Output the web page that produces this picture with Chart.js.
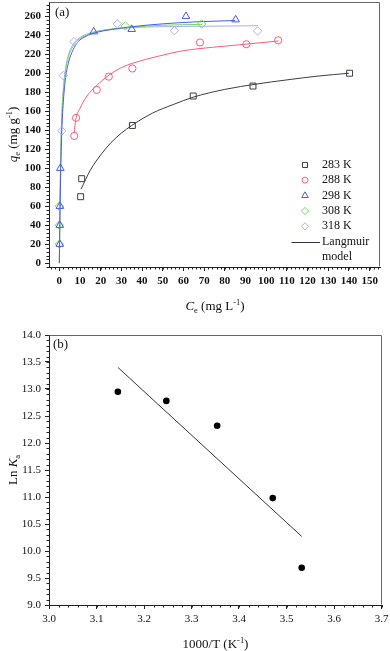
<!DOCTYPE html>
<html>
<head>
<meta charset="utf-8">
<script src="https://cdn.jsdelivr.net/npm/chart.js@4.4.1/dist/chart.umd.min.js"></script>
<style>
  html, body { margin: 0; padding: 0; background: #fff; }
  canvas { display: block; }
</style>
</head>
<body>
<canvas id="isothermChart" width="390" height="320"></canvas>
<canvas id="vantHoffChart" width="390" height="331"></canvas>
<script>
// ---- (a) adsorption isotherms: measured points ----
const seriesLabels = ['283 K', '288 K', '298 K', '308 K', '318 K'];

const ce283 = [10.3, 10.8, 35.3, 64.7, 93.6, 140.3];
const qe283 = [70, 89, 145, 176, 186.5, 200];
const ce288 = [7.2, 8.1, 18.1, 23.9, 35.3, 68, 90.4, 105.8];
const qe288 = [134, 153, 182.5, 196.4, 205, 232.4, 230.5, 234.7];
const ce298 = [0.2, 0.2, 0.3, 0.5, 16.6, 35, 61.2, 85.2];
const qe298 = [20, 40, 60, 100, 243.8, 246.3, 260, 256.4];
const ce308 = [0, 0, 0, 31.9, 68.8];
const qe308 = [20, 40, 60, 249.8, 251.9];
const ce318 = [1.2, 1.9, 7.1, 28, 55.6, 95.8];
const qe318 = [139.3, 197.5, 233.3, 252, 244.8, 244.5];

// ---- (a) Langmuir model curves ----
const fitC283 = [10.5, 15, 20, 25, 30, 35, 45, 55, 65, 80, 95, 110, 125, 140];
const fitQ283 = [78, 98, 114, 127, 137, 145, 158, 167, 175, 183, 188.5, 193, 197, 200];
const fitC288 = [7.1, 8, 10, 13, 18, 24, 30, 36, 48, 58, 68, 80, 92, 106];
const fitQ288 = [137, 152, 163, 175, 187, 198, 206, 211, 218, 223, 226, 228.5, 231, 234];
const fitC298 = [0, 0.3, 0.7, 1.2, 2, 3, 4.5, 6.5, 9, 13, 18, 25, 35, 50, 65, 85];
const fitQ298 = [0, 50, 100, 140, 172, 195, 212, 224, 233, 239, 243, 246, 249, 252, 254, 255.5];
const fitC308 = [0, 0.3, 0.7, 1.2, 2, 3, 4.5, 6.5, 9, 13, 18, 25, 35, 50, 69];
const fitQ308 = [0, 60, 115, 152, 182, 202, 218, 228, 235, 240, 244, 246.5, 248.5, 250.5, 251.5];
const fitC318 = [0, 0.3, 0.7, 1.2, 2, 3, 4.5, 6.5, 9, 13, 18, 25, 35, 50, 70, 96];
const fitQ318 = [0, 65, 120, 158, 186, 205, 220, 230, 236, 241, 244, 246, 248, 249, 249.5, 250];

const ceTicks = [0, 10, 20, 30, 40, 50, 60, 70, 80, 90, 100, 110, 120, 130, 140, 150];
const qeTicks = [0, 20, 40, 60, 80, 100, 120, 140, 160, 180, 200, 220, 240, 260];

// ---- (b) van't Hoff plot ----
const invT = [3.145, 3.247, 3.354, 3.471, 3.532];
const lnKa = [12.95, 12.78, 12.32, 10.98, 9.69];
const lineInvT = [3.145, 3.532];
const lineLnKa = [13.4, 10.27];

const invTTicks = [3.0, 3.1, 3.2, 3.3, 3.4, 3.5, 3.6, 3.7];
const lnKaTicks = [9.0, 9.5, 10.0, 10.5, 11.0, 11.5, 12.0, 12.5, 13.0, 13.5, 14.0];

const FONT = 'Liberation Serif';
const colors = ['#3c3c48', '#ff5a76', '#4c5ae6', '#6edc52', '#a9aff3'];
const styles = ['rect', 'circle', 'triangle', 'rectRot', 'rectRot'];
const radii = [4.2, 3.6, 4.4, 4.2, 4.2];

const toPoints = (xs, ys) => xs.map((x, i) => ({ x: x, y: ys[i] }));

function markerSet(i, xs, ys) {
    return {
        label: seriesLabels[i],
        data: toPoints(xs, ys),
        showLine: false,
        pointStyle: styles[i],
        pointRadius: radii[i],
        pointBorderColor: colors[i],
        pointBackgroundColor: 'rgba(0,0,0,0)',
        pointBorderWidth: 1,
    };
}

function fitSet(i, xs, ys) {
    return {
        label: seriesLabels[i] + ' fit',
        data: toPoints(xs, ys),
        showLine: true,
        pointRadius: 0,
        borderColor: colors[i],
        borderWidth: 1,
        tension: 0.4,
        cubicInterpolationMode: 'monotone',
        fill: false,
    };
}

// text with italics, subscripts and superscripts
function drawRich(ctx, parts, cx, cy, angle, size) {
    const fontFor = p => (p.italic ? 'italic ' : '') + ((p.sub || p.sup) ? size * 0.65 : size) + 'px "' + FONT + '"';
    let total = 0;
    const widths = parts.map(p => {
        ctx.font = fontFor(p);
        const w = ctx.measureText(p.t).width;
        total += w;
        return w;
    });
    ctx.save();
    ctx.translate(cx, cy);
    ctx.rotate(angle);
    ctx.fillStyle = '#111';
    ctx.textBaseline = 'alphabetic';
    ctx.textAlign = 'left';
    let x = -total / 2;
    const base = size * 0.35;
    parts.forEach((p, i) => {
        ctx.font = fontFor(p);
        const dy = p.sub ? size * 0.28 : (p.sup ? -size * 0.38 : 0);
        ctx.fillText(p.t, x, base + dy);
        x += widths[i];
    });
    ctx.restore();
}

// box frame (top + right) and minor ticks
const framePlugin = {
    id: 'frame',
    afterDraw(chart, args, opts) {
        const ctx = chart.ctx;
        const a = chart.chartArea;
        const l = Math.round(a.left) + 0.5, r = Math.round(a.right) - 0.5;
        const t = Math.round(a.top) + 0.5, b = Math.round(a.bottom) - 0.5;
        ctx.save();
        ctx.strokeStyle = '#666';
        ctx.lineWidth = 1;
        ctx.beginPath();
        ctx.moveTo(l, t);
        ctx.lineTo(r, t);
        ctx.lineTo(r, b);
        ctx.stroke();

        ctx.strokeStyle = '#222';
        ctx.beginPath();
        const xs = chart.scales.x, ys = chart.scales.y;
        for (let v = opts.xFrom; v <= xs.max + 1e-9; v += opts.xStep) {
            const px = Math.round(xs.getPixelForValue(v)) + 0.5;
            ctx.moveTo(px, a.bottom);
            ctx.lineTo(px, a.bottom + 2.5);
        }
        for (let v = opts.yFrom; v <= ys.max + 1e-9; v += opts.yStep) {
            const py = Math.round(ys.getPixelForValue(v)) + 0.5;
            ctx.moveTo(a.left, py);
            ctx.lineTo(a.left - 2.5, py);
        }
        ctx.stroke();
        ctx.restore();
    }
};

const titlesPlugin = {
    id: 'titles',
    afterDraw(chart, args, opts) {
        const ctx = chart.ctx;
        drawRich(ctx, opts.y, 12, opts.yCenter, -Math.PI / 2, 13);
        drawRich(ctx, opts.x, opts.xCenter, opts.xPos, 0, 13);
        ctx.save();
        ctx.font = '13px "' + FONT + '"';
        ctx.fillStyle = '#111';
        ctx.textBaseline = 'middle';
        ctx.textAlign = 'left';
        ctx.fillText(opts.panel, opts.panelX, opts.panelY);
        ctx.restore();
    }
};

const insideLegend = {
    id: 'insideLegend',
    afterDraw(chart) {
        const ctx = chart.ctx;
        ctx.save();
        ctx.font = '12px "' + FONT + '"';
        ctx.textBaseline = 'middle';
        ctx.textAlign = 'left';
        const rows = [165, 180.2, 195.6, 211, 226.3];
        seriesLabels.forEach((label, i) => {
            ctx.strokeStyle = colors[i];
            ctx.fillStyle = 'rgba(0,0,0,0)';
            ctx.lineWidth = 1;
            Chart.helpers.drawPoint(ctx, { pointStyle: styles[i], radius: radii[i] - 0.6, borderWidth: 1, rotation: 0 }, 305, rows[i]);
            ctx.fillStyle = '#111';
            ctx.fillText(label, 322, rows[i]);
        });
        ctx.strokeStyle = '#33334a';
        ctx.beginPath();
        ctx.moveTo(291.5, 242.5);
        ctx.lineTo(320, 242.5);
        ctx.stroke();
        ctx.fillStyle = '#111';
        ctx.fillText('Langmuir', 322, 242);
        ctx.fillText('model', 322, 257);
        ctx.restore();
    }
};

function axisOpts(min, max, tickValues, fmt, fixSize, weight) {
    return {
        type: 'linear',
        min: min,
        max: max,
        afterBuildTicks: axis => {
            axis.ticks = tickValues.map(v => ({ value: v }));
        },
        afterFit: fixSize,
        ticks: {
            autoSkip: false,
            maxRotation: 0,
            padding: 4,
            color: '#111',
            font: { family: FONT, size: 11, weight: weight },
            callback: fmt,
        },
        grid: {
            drawOnChartArea: false,
            drawTicks: true,
            tickLength: 4,
            tickColor: '#222',
        },
        border: { color: '#222', width: 1 },
    };
}

// ---- chart (a) ----
new Chart(document.getElementById('isothermChart').getContext('2d'), {
    type: 'scatter',
    data: {
        datasets: [
            markerSet(0, ce283, qe283),
            markerSet(1, ce288, qe288),
            markerSet(2, ce298, qe298),
            markerSet(3, ce308, qe308),
            markerSet(4, ce318, qe318),
            fitSet(0, fitC283, fitQ283),
            fitSet(1, fitC288, fitQ288),
            fitSet(2, fitC298, fitQ298),
            fitSet(3, fitC308, fitQ308),
            fitSet(4, fitC318, fitQ318),
        ],
    },
    options: {
        responsive: false,
        animation: false,
        layout: { autoPadding: false, padding: { left: 0, right: 10, top: 2, bottom: 0 } },
        scales: {
            x: axisOpts(-5, 155, ceTicks, v => v,
                axis => { axis.height = 53; axis.paddingLeft = 0; axis.paddingRight = 0; }, 'bold'),
            y: axisOpts(-4, 275, qeTicks, v => v,
                axis => { axis.width = 49; axis.paddingTop = 0; axis.paddingBottom = 0; }, 'bold'),
        },
        plugins: {
            legend: { display: false },
            tooltip: { enabled: false },
            frame: { xFrom: -4, xStep: 2, yFrom: -4, yStep: 4 },
            titles: {
                y: [{ t: 'q', italic: true }, { t: 'e', sub: true }, { t: ' (mg g' }, { t: '-1', sup: true }, { t: ')' }],
                x: [{ t: 'C', italic: true }, { t: 'e', sub: true }, { t: ' (mg L' }, { t: '-1', sup: true }, { t: ')' }],
                yCenter: 134.5, xCenter: 215, xPos: 305,
                panel: '(a)', panelX: 55, panelY: 13,
            },
        },
    },
    plugins: [framePlugin, titlesPlugin, insideLegend],
});

// ---- chart (b) ----
new Chart(document.getElementById('vantHoffChart').getContext('2d'), {
    type: 'scatter',
    data: {
        datasets: [
            {
                label: 'Ln Ka',
                data: toPoints(invT, lnKa),
                showLine: false,
                pointStyle: 'circle',
                pointRadius: 3.3,
                pointBackgroundColor: '#000',
                pointBorderColor: '#000',
                pointBorderWidth: 0,
            },
            {
                label: 'linear fit',
                data: toPoints(lineInvT, lineLnKa),
                showLine: true,
                pointRadius: 0,
                borderColor: '#333',
                borderWidth: 1,
                fill: false,
            },
        ],
    },
    options: {
        responsive: false,
        animation: false,
        layout: { autoPadding: false, padding: { left: 0, right: 8.5, top: 15, bottom: 0 } },
        scales: {
            x: axisOpts(3.0, 3.7, invTTicks, v => v.toFixed(1),
                axis => { axis.height = 46; axis.paddingLeft = 0; axis.paddingRight = 0; }, 'normal'),
            y: axisOpts(9.0, 14.0, lnKaTicks, v => v.toFixed(1),
                axis => { axis.width = 49; axis.paddingTop = 0; axis.paddingBottom = 0; }, 'normal'),
        },
        plugins: {
            legend: { display: false },
            tooltip: { enabled: false },
            frame: { xFrom: 3.0, xStep: 0.02, yFrom: 9.0, yStep: 0.1 },
            titles: {
                y: [{ t: 'Ln ' }, { t: 'K', italic: true }, { t: 'a', sub: true }],
                x: [{ t: '1000/T (K' }, { t: '-1', sup: true }, { t: ')' }],
                yCenter: 150, xCenter: 215.5, xPos: 323,
                panel: '(b)', panelX: 53, panelY: 25,
            },
        },
    },
    plugins: [framePlugin, titlesPlugin],
});
</script>
</body>
</html>
